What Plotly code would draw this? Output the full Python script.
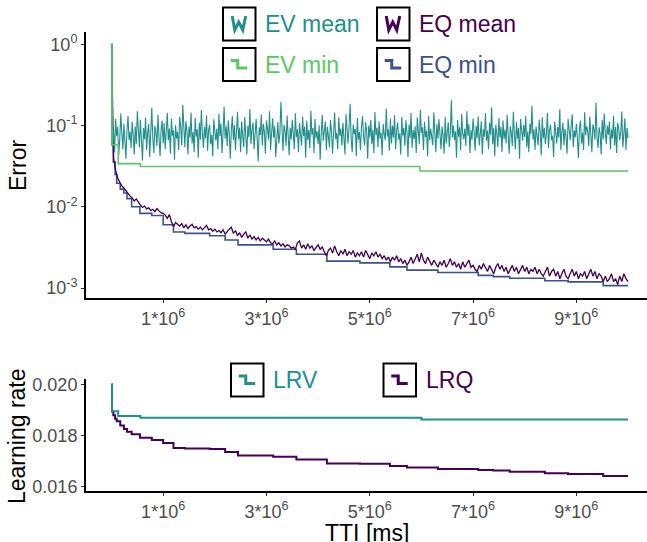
import plotly.graph_objects as go

# ---------------- data ----------------
EV_STEP = 20000  # TTI between samples of the EV mean curve [ms]
EQ_STEP = 40000  # TTI between samples of the EQ mean curve [ms]

ev_mean = [1.0,
    0.057, 0.088, 0.047, 0.120, 0.074, 0.096, 0.043, 0.068, 0.140, 0.080,
    0.051, 0.105, 0.072, 0.039, 0.090, 0.131, 0.066, 0.084, 0.053, 0.112,
    0.077, 0.044, 0.098, 0.059, 0.150, 0.085, 0.054, 0.118, 0.071, 0.037,
    0.093, 0.068, 0.125, 0.050, 0.082, 0.104, 0.041, 0.076, 0.165, 0.070,
    0.046, 0.099, 0.083, 0.056, 0.136, 0.073, 0.042, 0.089, 0.115, 0.060,
    0.107, 0.051, 0.079, 0.143, 0.066, 0.092, 0.045, 0.121, 0.075, 0.087,
    0.038, 0.101, 0.069, 0.084, 0.050, 0.128, 0.095, 0.057, 0.180, 0.078,
    0.054, 0.113, 0.086, 0.044, 0.097, 0.071, 0.145, 0.060, 0.083, 0.047,
    0.124, 0.073, 0.090, 0.040, 0.108, 0.067, 0.155, 0.081, 0.053, 0.096,
    0.070, 0.134, 0.049, 0.088, 0.102, 0.059, 0.077, 0.042, 0.119, 0.085,
    0.065, 0.092, 0.051, 0.139, 0.074, 0.106, 0.046, 0.082, 0.170, 0.069,
    0.097, 0.056, 0.116, 0.079, 0.039, 0.089, 0.130, 0.066, 0.101, 0.050,
    0.083, 0.148, 0.068, 0.094, 0.047, 0.112, 0.075, 0.054, 0.127, 0.086,
    0.044, 0.099, 0.072, 0.160, 0.059, 0.088, 0.109, 0.051, 0.080, 0.121,
    0.069, 0.036, 0.095, 0.076, 0.137, 0.057, 0.104, 0.084, 0.045, 0.115,
    0.091, 0.067, 0.150, 0.050, 0.082, 0.123, 0.071, 0.098, 0.041, 0.086,
    0.110, 0.060, 0.079, 0.195, 0.073, 0.049, 0.102, 0.087, 0.056, 0.133,
    0.076, 0.043, 0.094, 0.068, 0.118, 0.080, 0.051, 0.141, 0.072, 0.090,
    0.047, 0.107, 0.083, 0.057, 0.129, 0.074, 0.097, 0.040, 0.115, 0.066,
    0.088, 0.053, 0.152, 0.077, 0.093, 0.046, 0.120, 0.070, 0.085, 0.059,
    0.101, 0.038, 0.078, 0.135, 0.065, 0.089, 0.112, 0.050, 0.096, 0.073,
    0.054, 0.117, 0.084, 0.045, 0.099, 0.144, 0.068, 0.081, 0.051, 0.126,
    0.075, 0.092, 0.057, 0.108, 0.071, 0.044, 0.138, 0.086, 0.060, 0.098,
    0.185, 0.070, 0.047, 0.103, 0.079, 0.091, 0.042, 0.124, 0.067, 0.083,
    0.050, 0.096, 0.131, 0.074, 0.057, 0.110, 0.085, 0.039, 0.100, 0.072,
    0.118, 0.059, 0.088, 0.046, 0.147, 0.076, 0.094, 0.054, 0.113, 0.069,
    0.082, 0.043, 0.105, 0.078, 0.066, 0.162, 0.073, 0.090, 0.049, 0.121,
    0.060, 0.099, 0.071, 0.134, 0.051, 0.087, 0.109, 0.067, 0.080, 0.044,
    0.127, 0.075, 0.093, 0.056, 0.116, 0.084, 0.041, 0.103, 0.070, 0.142,
    0.053, 0.088, 0.068, 0.098, 0.046, 0.125, 0.077, 0.059, 0.156, 0.081,
    0.095, 0.050, 0.111, 0.072, 0.086, 0.042, 0.132, 0.066, 0.091, 0.074,
    0.057, 0.145, 0.080, 0.047, 0.104, 0.069, 0.119, 0.087, 0.051, 0.097,
    0.076, 0.045, 0.128, 0.060, 0.092, 0.110, 0.054, 0.083, 0.205, 0.071,
    0.100, 0.066, 0.085, 0.040, 0.117, 0.073, 0.095, 0.050, 0.139, 0.079,
    0.068, 0.092, 0.056, 0.150, 0.075, 0.104, 0.046, 0.088, 0.067, 0.122,
    0.084, 0.049, 0.099, 0.070, 0.130, 0.057, 0.079, 0.113, 0.044, 0.090,
    0.073, 0.141, 0.065, 0.087, 0.051, 0.107, 0.077, 0.168, 0.059, 0.094,
    0.042, 0.102, 0.081, 0.054, 0.124, 0.071, 0.096, 0.047, 0.115, 0.068,
    0.089, 0.060, 0.136, 0.074, 0.045, 0.098, 0.082, 0.056, 0.148, 0.076,
    0.051, 0.110, 0.069, 0.093, 0.039, 0.120, 0.086, 0.065, 0.101, 0.072,
    0.132, 0.054, 0.085, 0.047, 0.106, 0.078, 0.175, 0.067, 0.090, 0.050,
    0.097, 0.073, 0.057, 0.118, 0.084, 0.043, 0.126, 0.070, 0.094, 0.059,
    0.080, 0.143, 0.053, 0.088, 0.102, 0.066, 0.075, 0.041, 0.112, 0.085,
    0.060, 0.096, 0.071, 0.158, 0.050, 0.083, 0.109, 0.057, 0.091, 0.074,
    0.045, 0.121, 0.078, 0.066, 0.099, 0.137, 0.054, 0.087, 0.072, 0.105,
    0.069, 0.040, 0.093, 0.115, 0.060, 0.082, 0.050, 0.146, 0.076, 0.098,
    0.086, 0.056, 0.129, 0.073, 0.047, 0.103, 0.090, 0.067, 0.190, 0.071,
    0.053, 0.095, 0.080, 0.044, 0.117, 0.068, 0.140, 0.084, 0.059, 0.100,
    0.077, 0.112, 0.051, 0.089, 0.070, 0.131, 0.057, 0.096, 0.046, 0.108,
    0.092, 0.066, 0.083, 0.149, 0.054, 0.079, 0.123, 0.050, 0.094, 0.070]

eq_mean = [1.0,
    0.040, 0.028, 0.0225, 0.020, 0.018, 0.0170, 0.0158, 0.0142, 0.0135, 0.0128,
    0.0118, 0.0125, 0.0112, 0.0105, 0.0098, 0.0102, 0.0094, 0.0097, 0.0090, 0.0093,
    0.0087, 0.0095, 0.0089, 0.0084, 0.0083, 0.0079, 0.0072, 0.0080, 0.0066, 0.0057,
    0.0064, 0.0060, 0.0058, 0.0062, 0.0055, 0.0060, 0.0054, 0.0058, 0.0061, 0.0055,
    0.0057, 0.0053, 0.0056, 0.0052, 0.0055, 0.0059, 0.0052, 0.0054, 0.0050, 0.0053,
    0.0049, 0.0051, 0.0048, 0.0052, 0.0046, 0.0050, 0.0053, 0.0056, 0.0047, 0.0051,
    0.0044, 0.0048, 0.0042, 0.0046, 0.0049, 0.0041, 0.0045, 0.0040, 0.0043, 0.0039,
    0.0042, 0.0038, 0.0041, 0.0039, 0.0037, 0.0040, 0.0036, 0.0035, 0.0038, 0.0034,
    0.0036, 0.0033, 0.0035, 0.0032, 0.0034, 0.0033, 0.0031, 0.0032, 0.0030, 0.0036,
    0.0038, 0.0031, 0.0034, 0.0030, 0.0035, 0.0031, 0.0033, 0.0029, 0.0032, 0.0034,
    0.0030, 0.0032, 0.0028, 0.0025, 0.0029, 0.0031, 0.0027, 0.0033, 0.0028, 0.0025,
    0.0029, 0.0026, 0.0030, 0.0025, 0.0028, 0.0026, 0.0029, 0.0024, 0.0027, 0.0025,
    0.0028, 0.0024, 0.0029, 0.0026, 0.0023, 0.0027, 0.0025, 0.0028, 0.0024, 0.0026,
    0.0023, 0.0025, 0.0022, 0.0024, 0.0021, 0.0024, 0.0022, 0.0025, 0.0021, 0.0023,
    0.0020, 0.0022, 0.0019, 0.0021, 0.0024, 0.0020, 0.0023, 0.0026, 0.0021, 0.0027,
    0.0022, 0.0020, 0.0024, 0.0021, 0.0019, 0.0022, 0.0020, 0.0018, 0.0021, 0.0019,
    0.0022, 0.0018, 0.0020, 0.0023, 0.0019, 0.0021, 0.0018, 0.0020, 0.0017, 0.0021,
    0.0018, 0.0020, 0.0022, 0.0018, 0.0019, 0.0017, 0.0016, 0.0019, 0.0017, 0.0020,
    0.0018, 0.0016, 0.0019, 0.0017, 0.0015, 0.0018, 0.0020, 0.0017, 0.0019, 0.0016,
    0.0018, 0.0015, 0.0017, 0.0019, 0.0016, 0.0018, 0.0015, 0.0017, 0.0019, 0.0016,
    0.0018, 0.0015, 0.0017, 0.0016, 0.0018, 0.0015, 0.0017, 0.0015, 0.0014, 0.0016,
    0.0018, 0.0014, 0.0016, 0.0017, 0.0014, 0.0016, 0.0013, 0.0015, 0.0017, 0.0014,
    0.0013, 0.0015, 0.0017, 0.0014, 0.0016, 0.0013, 0.0015, 0.0014, 0.0016, 0.0013,
    0.0015, 0.0017, 0.0014, 0.0016, 0.0013, 0.0015, 0.0014, 0.0012, 0.0014, 0.0012,
    0.0013, 0.0015, 0.0012, 0.0013, 0.0011, 0.0014, 0.0012, 0.0015, 0.0013, 0.0012]

ev_min_tti = [0, 10000, 130000, 560000, 5970000, 10000000]
ev_min = [1.0, 0.058, 0.034, 0.0313, 0.0275, 0.0275]

eq_min_tti = [0, 10000, 35000, 70000, 100000, 170000, 240000, 300000, 390000, 550000,
              780000, 1000000, 1200000, 1420000, 1900000, 2200000, 2450000, 3130000,
              3580000, 4170000, 4810000, 5390000, 5720000, 6320000, 7100000, 7390000,
              7710000, 8390000, 8840000, 9520000, 10000000]
eq_min = [1.0, 0.058, 0.0355, 0.025, 0.0195, 0.0165, 0.0148, 0.0126, 0.0100, 0.0083,
          0.0078, 0.0060, 0.0049, 0.0047, 0.0044, 0.0039, 0.0034, 0.0030,
          0.0026, 0.00214, 0.00204, 0.00182, 0.00166, 0.00155, 0.00143, 0.00138,
          0.00132, 0.00123, 0.00119, 0.00107, 0.00107]

lrv_tti = [0, 10000, 130000, 560000, 6000000, 10000000]
lrv = [0.0200, 0.01895, 0.01877, 0.0187, 0.01863, 0.01863]

lrq_tti = eq_min_tti
lrq = [0.0200, 0.01894, 0.01880, 0.01866, 0.01856, 0.01840, 0.01826, 0.01815, 0.01805, 0.01792,
       0.01783, 0.01771, 0.01752, 0.01750, 0.01748, 0.01736, 0.01723, 0.01718,
       0.01707, 0.01691, 0.01690, 0.01682, 0.01676, 0.01670, 0.01666, 0.01664,
       0.01659, 0.01653, 0.01650, 0.01643, 0.01643]

x_tickvals = [1e6, 3e6, 5e6, 7e6, 9e6]
x_ticktext = ["1*10<sup>6</sup>", "3*10<sup>6</sup>", "5*10<sup>6</sup>",
              "7*10<sup>6</sup>", "9*10<sup>6</sup>"]
err_tickvals = [1, 0.1, 0.01, 0.001]
err_ticktext = ["10<sup>0</sup>", "10<sup>-1</sup>", "10<sup>-2</sup>", "10<sup>-3</sup>"]
lr_tickvals = [0.016, 0.018, 0.020]
lr_ticktext = ["0.016", "0.018", "0.020"]

# ---------------- style ----------------
C_EV_MEAN = "#21908C"
C_EV_MIN = "#5DC863"
C_EQ_MEAN = "#440154"
C_EQ_MIN = "#3B528B"
FONT = "Liberation Sans, Arial, sans-serif"
TICK_C = "#4D4D4D"

W, H = 647, 542
ML, MR, MT, MB = 86, 0, 32, 51
PW, PH = W - ML - MR, H - MT - MB


def px(x):
    return (x - ML) / PW


def py(y):
    return (H - MB - y) / PH


tti_ev = [i * EV_STEP for i in range(len(ev_mean))]
tti_eq = [i * EQ_STEP for i in range(len(eq_mean))]

fig = go.Figure()
fig.add_trace(go.Scatter(x=eq_min_tti, y=eq_min, mode="lines", line=dict(color=C_EQ_MIN, width=1.6, shape="hv"),
                         xaxis="x", yaxis="y", showlegend=False))
fig.add_trace(go.Scatter(x=tti_eq, y=eq_mean, mode="lines", line=dict(color=C_EQ_MEAN, width=1.3),
                         xaxis="x", yaxis="y", showlegend=False))
fig.add_trace(go.Scatter(x=tti_ev, y=ev_mean, mode="lines", line=dict(color=C_EV_MEAN, width=1.1),
                         xaxis="x", yaxis="y", showlegend=False))
fig.add_trace(go.Scatter(x=ev_min_tti, y=ev_min, mode="lines", line=dict(color=C_EV_MIN, width=1.6, shape="hv"),
                         xaxis="x", yaxis="y", showlegend=False))
fig.add_trace(go.Scatter(x=lrq_tti, y=lrq, mode="lines", line=dict(color=C_EQ_MEAN, width=2, shape="hv"),
                         xaxis="x2", yaxis="y2", showlegend=False))
fig.add_trace(go.Scatter(x=lrv_tti, y=lrv, mode="lines", line=dict(color=C_EV_MEAN, width=2, shape="hv"),
                         xaxis="x2", yaxis="y2", showlegend=False))

x_range = [(ML - 111.5) / 51.65 * 1e6, (W - 111.5) / 51.65 * 1e6]
axis_common = dict(showline=True, linecolor="black", linewidth=2, ticks="outside", ticklen=3,
                   tickwidth=1, tickcolor="#333333", showgrid=False, zeroline=False,
                   tickfont=dict(family=FONT, size=18, color=TICK_C))

fig.update_layout(
    width=W, height=H, margin=dict(l=ML, r=MR, t=MT, b=MB),
    plot_bgcolor="white", paper_bgcolor="white",
    font=dict(family=FONT), hovermode=False,
    xaxis=dict(domain=[0, 1], anchor="y", range=x_range, tickvals=x_tickvals, ticktext=x_ticktext, **axis_common),
    yaxis=dict(domain=[py(298), 1], anchor="x", type="log", range=[-3.123, 0.151],
               tickvals=err_tickvals, ticktext=err_ticktext, **axis_common),
    xaxis2=dict(domain=[0, 1], anchor="y2", range=x_range, tickvals=x_tickvals, ticktext=x_ticktext, **axis_common),
    yaxis2=dict(domain=[0, py(379)], anchor="x2", range=[0.01584, 0.02021],
                tickvals=lr_tickvals, ticktext=lr_ticktext, **axis_common),
)

annotations = [
    dict(text="Error", x=px(18), y=py(166), textangle=-90),
    dict(text="Learning rate", x=px(17), y=py(436), textangle=-90),
    dict(text="TTI [ms]", x=px(366.5), y=py(533), textangle=0),
]
for a in annotations:
    fig.add_annotation(xref="paper", yref="paper", showarrow=False, xanchor="center", yanchor="middle",
                       font=dict(family=FONT, size=23, color="black"), **a)

# custom legend: boxes with icons
BOX_W, BOX_H = 32.5, 33
legend_items = [
    ("EV mean", C_EV_MEAN, "mean", 223, 7.5),
    ("EQ mean", C_EQ_MEAN, "mean", 377, 7.5),
    ("EV min", C_EV_MIN, "step", 223, 48),
    ("EQ min", C_EQ_MIN, "step", 377, 48),
    ("LRV", C_EV_MEAN, "step", 231, 363.5),
    ("LRQ", C_EQ_MEAN, "step", 383.5, 363.5),
]
for label, color, icon, bx, by in legend_items:
    fig.add_shape(type="rect", xref="paper", yref="paper", x0=px(bx), x1=px(bx + BOX_W),
                  y0=py(by + BOX_H), y1=py(by), line=dict(color="black", width=2), fillcolor="white")
    cx, cy = bx + BOX_W / 2, by + BOX_H / 2
    if icon == "mean":
        pts = [(cx - 7, cy - 8), (cx - 4.5, cy + 6), (cx - 0.5, cy - 2), (cx + 3.5, cy + 6), (cx + 6.5, cy - 8)]
    else:
        pts = [(cx - 8.5, cy - 4), (cx - 1.5, cy - 4), (cx - 1.5, cy + 3.5), (cx + 8, cy + 3.5)]
    path = "M " + " L ".join(f"{px(x):.5f},{py(y):.5f}" for x, y in pts)
    fig.add_shape(type="path", xref="paper", yref="paper", path=path, line=dict(color=color, width=3))
    fig.add_annotation(xref="paper", yref="paper", x=px(bx + BOX_W + 7.5), y=py(cy), text=label,
                       showarrow=False, xanchor="left", yanchor="middle",
                       font=dict(family=FONT, size=23, color=color))

fig.write_html("out.html", config={"displayModeBar": False},
               post_script="document.body.style.margin='0px';")
